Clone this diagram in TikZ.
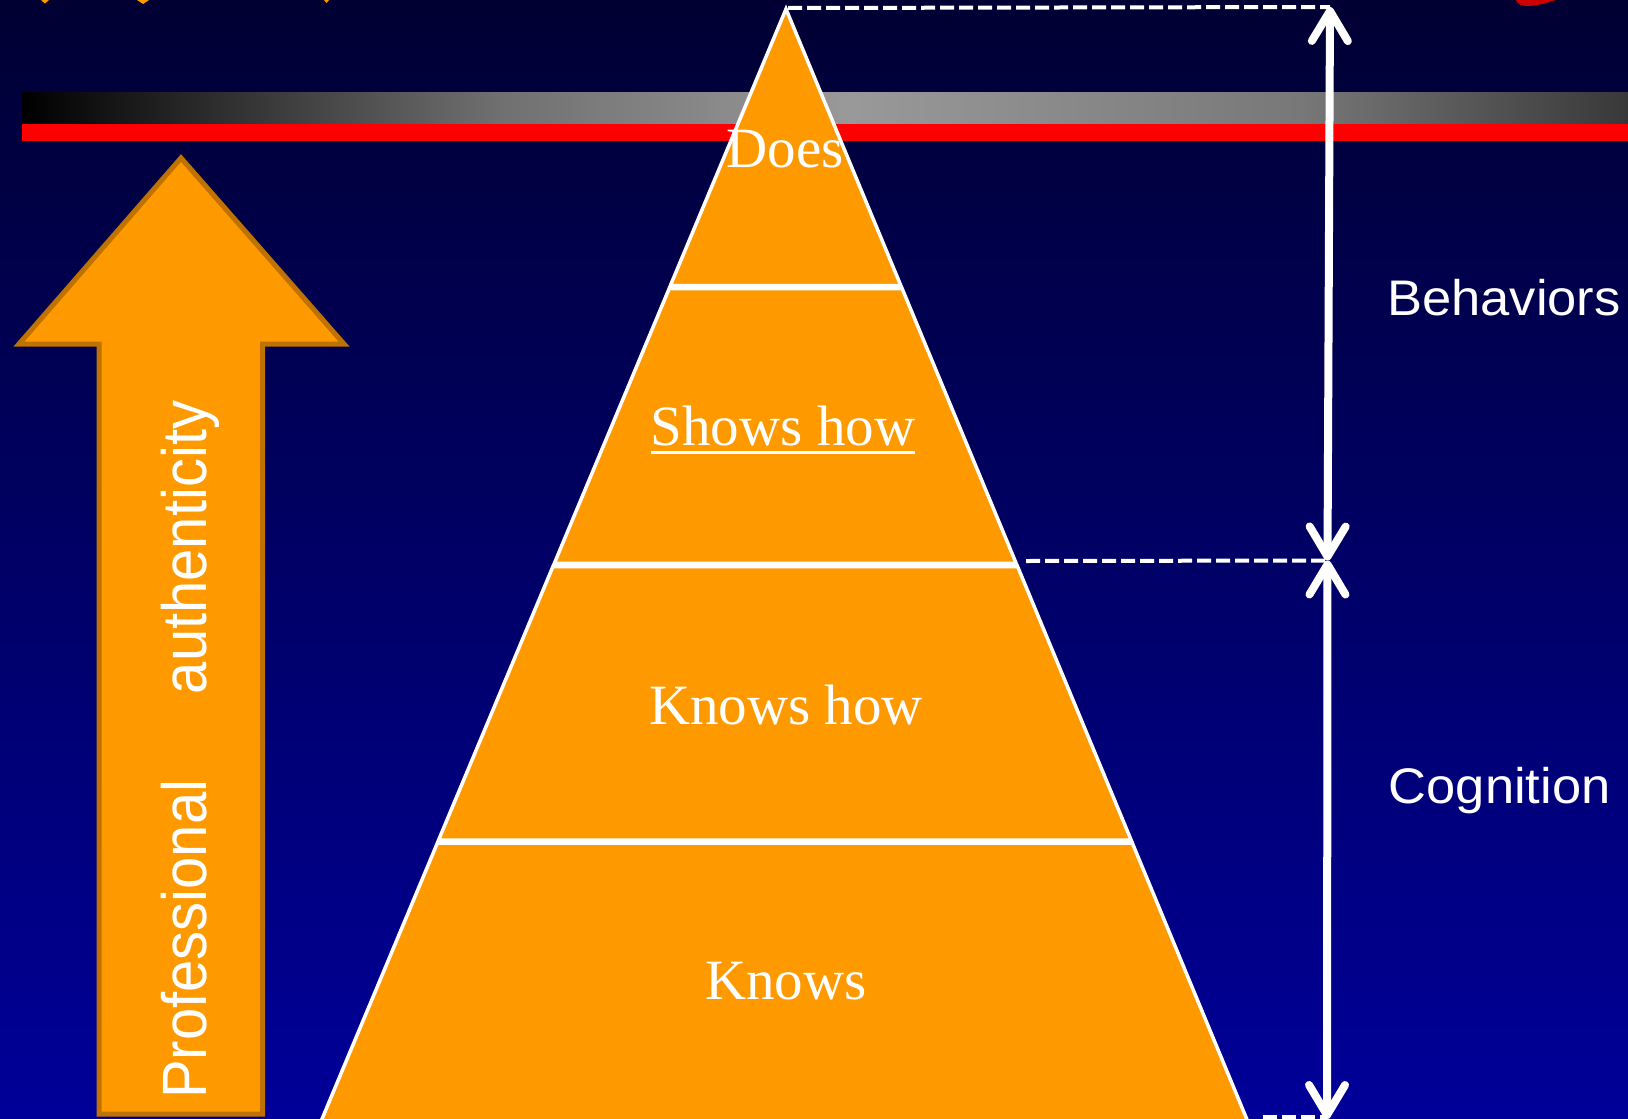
\documentclass[tikz,border=0pt]{standalone}
\usepackage{fontspec}
\setmainfont{Liberation Serif}
\newfontfamily\arialfont{Liberation Sans}
\usetikzlibrary{arrows.meta}
\definecolor{bgtop}{HTML}{000033}
\definecolor{bgbot}{HTML}{000099}
\definecolor{pyrorange}{HTML}{FF9900}
\definecolor{arrowedge}{HTML}{BF7200}
\definecolor{barred}{HTML}{FF0000}
\definecolor{swooshred}{HTML}{CC0000}
\definecolor{gA}{gray}{0}
\definecolor{gB}{gray}{0.44}
\definecolor{gC}{gray}{0.6}
\definecolor{gD}{gray}{0.47}
\definecolor{gE}{gray}{0.22}
\pgfdeclarehorizontalshading{barshade}{100bp}{color(0bp)=(gA); color(25bp)=(gA); color(39.9bp)=(gB); color(50.8bp)=(gC); color(64.8bp)=(gD); color(75bp)=(gE); color(100bp)=(gE)}
\begin{document}
\begin{tikzpicture}[x=1pt,y=-1pt,
  tier/.style={fill=pyrorange, draw=white, line width=3.5pt, line join=miter},
  tiertext/.style={font=\fontsize{57}{68}\selectfont, text=white, inner sep=0pt, anchor=base},
  sidetext/.style={font=\arialfont\fontsize{50}{60}\selectfont, text=white, inner sep=0pt, anchor=base west, xscale=1.05},
  dashline/.style={draw=white, line width=4pt, dash pattern=on 14pt off 5pt},
  vArrow/.style={draw=white, line width=8pt, {Straight Barb[length=30pt,width=36pt,round]}-{Straight Barb[length=30pt,width=36pt,round]}},
  bigarrow/.style={fill=pyrorange, draw=arrowedge, line width=5pt, line join=miter}
]
\useasboundingbox (0,0) rectangle (1628,1119);
\clip (0,0) rectangle (1628,1119);
% background
\shade[top color=bgtop, bottom color=bgbot] (0,0) rectangle (1628,1119);
% cut-off title fragments
\fill[pyrorange] (41,0) -- (49,0) -- (45,3.5) -- cycle;
\fill[pyrorange] (137,0) -- (149,0) -- (143,4) -- cycle;
\fill[pyrorange] (324,0) -- (329,0) -- (326.5,3) -- cycle;
\fill[swooshred] (1516,0) .. controls (1518,8) and (1532,8) .. (1556,0) -- cycle;
% bars
\shade[shading=barshade] (22,92) rectangle (1628,124);
\fill[barred] (22,124) rectangle (1628,141);
% pyramid
\coordinate (apex) at (786,9);
\draw[tier] (apex) -- (900.8,285.5) -- (670.4,285.5) -- cycle;
\draw[tier] (669.2,288.5) -- (902.1,288.5) -- (1016.2,563.4) -- (554.3,563.4) -- cycle;
\draw[tier] (552.9,566.6) -- (1017.6,566.6) -- (1131.1,840) -- (438.6,840) -- cycle;
\draw[tier] (437.3,843.2) -- (1132.4,843.2) -- (1251.3,1130) -- (317.4,1130) -- cycle;
\node[tiertext] (does) at (785,167) {Does};
\node[tiertext] (showshow) at (783,445) {Shows how};
\draw[white, line width=2.5pt] ([yshift=-7.7pt]showshow.base west) -- ([yshift=-7.7pt]showshow.base east);
\node[tiertext] (knowshow) at (786,724) {Knows how};
\node[tiertext] (knows) at (786,999) {Knows};
% big arrow
\draw[bigarrow] (181,158) -- (344,344) -- (262.5,344) -- (262.5,1114) -- (99,1114) -- (99,344) -- (19,344) -- cycle;
\node[rotate=90, anchor=base west, inner sep=0pt, text=white, font=\arialfont\fontsize{58}{70}\selectfont] (profauth) at (206.7,1099)
  {\scalebox{1}[1.08]{Professional\hspace{85.5pt}authenticity}};
% side labels
\node[sidetext] (behav) at (1387,315) {Behaviors};
\node[sidetext] (cogn) at (1388.5,803.3) {Cognition};
% dimension lines
\coordinate (topT) at (1330,7);
\coordinate (midT) at (1327.5,560.5);
\coordinate (botT) at (1327,1119);
\coordinate (midD) at (1026,561);
\coordinate (botD) at (1263,1117);
\coordinate (apexD) at (788,8);
\draw[dashline] (apexD) -- (topT);
\draw[dashline] (midD) -- (midT);
\draw[dashline] (botD) -- (1327,1117);
\draw[vArrow] (topT) -- (midT);
\draw[vArrow] (midT) -- (botT);
\end{tikzpicture}
\end{document}
